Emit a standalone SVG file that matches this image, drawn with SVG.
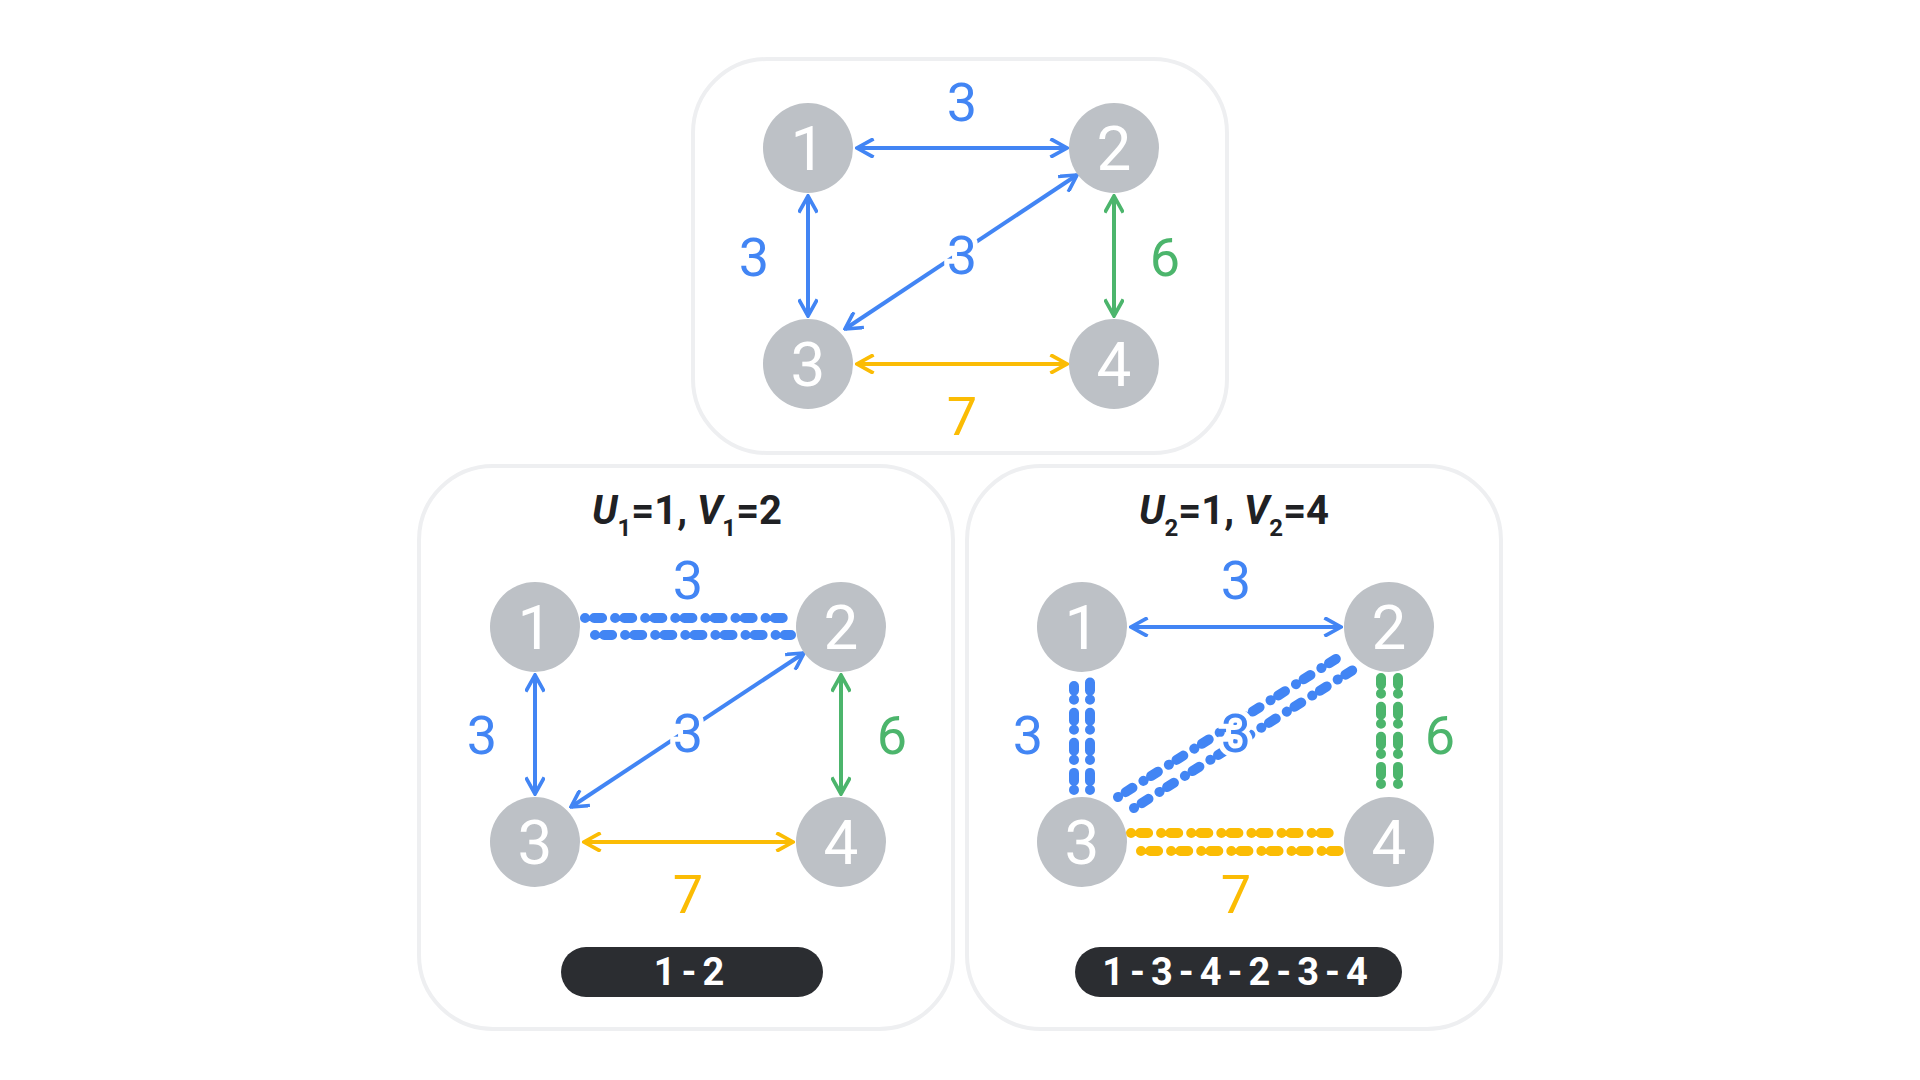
<svg xmlns="http://www.w3.org/2000/svg" width="1920" height="1080" viewBox="0 0 1920 1080">
<style>
.panel{fill:#fff;stroke:#eeeff1;stroke-width:4}
.node circle{fill:#bdc1c6}
.node text{fill:#fff;font-family:Roboto,"Open Sans",sans-serif;font-size:62px;text-anchor:middle;dominant-baseline:central}
.lbl{font-family:Roboto,"Open Sans",sans-serif;font-size:54px;text-anchor:middle;dominant-baseline:central;paint-order:stroke;stroke:#fff;stroke-width:10}
.b{fill:#4285f4}.g{fill:#4cb56c}.y{fill:#fbbc04}
.e{fill:none;stroke-width:4}
.eb{stroke:#4285f4}.eg{stroke:#4cb56c}.ey{stroke:#fbbc04}
.fp{fill:none;stroke-width:10;stroke-linecap:round;stroke-dasharray:0.1 9 8 13}
.title{font-family:Roboto,"Open Sans",sans-serif;font-size:40px;font-weight:bold;fill:#202124;text-anchor:middle}
.pill rect{fill:#2b2d31}
.pill text{fill:#fff;font-family:Roboto,"Open Sans",sans-serif;font-size:38px;font-weight:bold;text-anchor:middle;dominant-baseline:central;letter-spacing:6px}
</style>
<defs>
<marker id="mb" viewBox="0 0 12 12" refX="11" refY="6" markerWidth="5" markerHeight="5" orient="auto-start-reverse" markerUnits="strokeWidth"><path d="M2 1 L11 6 L2 11" fill="none" stroke="#4285f4" stroke-width="2.2" stroke-linecap="square"/></marker>
<marker id="mg" viewBox="0 0 12 12" refX="11" refY="6" markerWidth="5" markerHeight="5" orient="auto-start-reverse" markerUnits="strokeWidth"><path d="M2 1 L11 6 L2 11" fill="none" stroke="#4cb56c" stroke-width="2.2" stroke-linecap="square"/></marker>
<marker id="my" viewBox="0 0 12 12" refX="11" refY="6" markerWidth="5" markerHeight="5" orient="auto-start-reverse" markerUnits="strokeWidth"><path d="M2 1 L11 6 L2 11" fill="none" stroke="#fbbc04" stroke-width="2.2" stroke-linecap="square"/></marker>
</defs>
<rect width="1920" height="1080" fill="#fff"/>
<g id="panels">
<rect class="panel" x="693" y="59" width="534" height="394" rx="74"/>
<rect class="panel" x="419" y="466" width="534" height="563" rx="74"/>
<rect class="panel" x="967" y="466" width="534" height="563" rx="74"/>
</g>
<g id="connectors">
<!-- top -->
<line class="e eb" x1="857" y1="148" x2="1067" y2="148" marker-start="url(#mb)" marker-end="url(#mb)"/>
<line class="e eb" x1="808" y1="196" x2="808" y2="316" marker-start="url(#mb)" marker-end="url(#mb)"/>
<line class="e eg" x1="1114" y1="196" x2="1114" y2="316" marker-start="url(#mg)" marker-end="url(#mg)"/>
<line class="e ey" x1="857" y1="364" x2="1067" y2="364" marker-start="url(#my)" marker-end="url(#my)"/>
<line class="e eb" x1="845" y1="329" x2="1077" y2="175" marker-start="url(#mb)" marker-end="url(#mb)"/>
<!-- bottom left -->
<line class="fp eb" x1="585" y1="618" x2="791" y2="618"/>
<line class="fp eb" x1="595" y1="635" x2="791" y2="635"/>
<line class="e eb" x1="535" y1="675" x2="535" y2="794" marker-start="url(#mb)" marker-end="url(#mb)"/>
<line class="e eg" x1="841" y1="675" x2="841" y2="794" marker-start="url(#mg)" marker-end="url(#mg)"/>
<line class="e ey" x1="584" y1="842" x2="793" y2="842" marker-start="url(#my)" marker-end="url(#my)"/>
<line class="e eb" x1="571" y1="807" x2="804" y2="653" marker-start="url(#mb)" marker-end="url(#mb)"/>
<!-- bottom right -->
<line class="e eb" x1="1131" y1="627" x2="1341" y2="627" marker-start="url(#mb)" marker-end="url(#mb)"/>
<line class="fp eb" x1="1074" y1="790" x2="1074" y2="686"/>
<line class="fp eb" x1="1090" y1="790" x2="1090" y2="678"/>
<line class="fp eg" x1="1381" y1="784" x2="1381" y2="678"/>
<line class="fp eg" x1="1398" y1="784" x2="1398" y2="678"/>
<line class="fp ey" x1="1131" y1="833" x2="1335" y2="833"/>
<line class="fp ey" x1="1141" y1="851" x2="1345" y2="851"/>
<line class="fp eb" x1="1118" y1="797" x2="1342" y2="655"/>
<line class="fp eb" x1="1134" y1="808" x2="1356" y2="668"/>
</g>
<g id="labels">
<text class="lbl b" x="962" y="102">3</text>
<text class="lbl b" x="754" y="257">3</text>
<text class="lbl b" x="962" y="255">3</text>
<text class="lbl g" x="1165" y="257">6</text>
<text class="lbl y" x="962" y="416">7</text>
<text class="lbl b" x="688" y="580">3</text>
<text class="lbl b" x="482" y="735">3</text>
<text class="lbl b" x="688" y="733">3</text>
<text class="lbl g" x="892" y="735">6</text>
<text class="lbl y" x="688" y="894">7</text>
<text class="lbl b" x="1236" y="580">3</text>
<text class="lbl b" x="1028" y="735">3</text>
<text class="lbl b" x="1236" y="733">3</text>
<text class="lbl g" x="1440" y="735">6</text>
<text class="lbl y" x="1236" y="894">7</text>
</g>
<g id="top-n1" class="node"><circle cx="808" cy="148" r="45"/><text x="808" y="148">1</text></g>
<g id="top-n2" class="node"><circle cx="1114" cy="148" r="45"/><text x="1114" y="148">2</text></g>
<g id="top-n3" class="node"><circle cx="808" cy="364" r="45"/><text x="808" y="364">3</text></g>
<g id="top-n4" class="node"><circle cx="1114" cy="364" r="45"/><text x="1114" y="364">4</text></g>
<g id="l-n1" class="node"><circle cx="535" cy="627" r="45"/><text x="535" y="627">1</text></g>
<g id="l-n2" class="node"><circle cx="841" cy="627" r="45"/><text x="841" y="627">2</text></g>
<g id="l-n3" class="node"><circle cx="535" cy="842" r="45"/><text x="535" y="842">3</text></g>
<g id="l-n4" class="node"><circle cx="841" cy="842" r="45"/><text x="841" y="842">4</text></g>
<g id="r-n1" class="node"><circle cx="1082" cy="627" r="45"/><text x="1082" y="627">1</text></g>
<g id="r-n2" class="node"><circle cx="1389" cy="627" r="45"/><text x="1389" y="627">2</text></g>
<g id="r-n3" class="node"><circle cx="1082" cy="842" r="45"/><text x="1082" y="842">3</text></g>
<g id="r-n4" class="node"><circle cx="1389" cy="842" r="45"/><text x="1389" y="842">4</text></g>
<g id="titles">
<text class="title" x="687" y="524"><tspan font-style="italic">U</tspan><tspan font-size="24" dy="12">1</tspan><tspan dy="-12">=1,  </tspan><tspan font-style="italic">V</tspan><tspan font-size="24" dy="12">1</tspan><tspan dy="-12">=2</tspan></text>
<text class="title" x="1234" y="524"><tspan font-style="italic">U</tspan><tspan font-size="24" dy="12">2</tspan><tspan dy="-12">=1,  </tspan><tspan font-style="italic">V</tspan><tspan font-size="24" dy="12">2</tspan><tspan dy="-12">=4</tspan></text>
</g>
<g id="pill-left" class="pill"><rect x="561" y="947" width="262" height="50" rx="25"/><text x="692" y="972">1-2</text></g>
<g id="pill-right" class="pill"><rect x="1075" y="947" width="327" height="50" rx="25"/><text x="1238" y="972">1-3-4-2-3-4</text></g>
</svg>
